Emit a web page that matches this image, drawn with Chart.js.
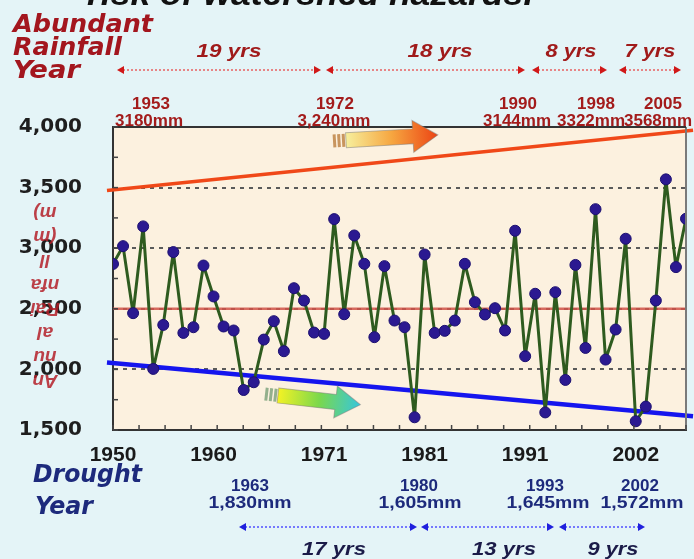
<!DOCTYPE html>
<html>
<head>
<meta charset="utf-8">
<script src="https://cdn.jsdelivr.net/npm/chart.js@4.4.1/dist/chart.umd.min.js"></script>
<style>
  html, body { margin: 0; padding: 0; background: #e4f4f7; }
  #wrap { width: 694px; height: 559px; }
</style>
</head>
<body>
<div id="wrap"><canvas id="chart" width="694" height="559"></canvas></div>
<script>
// annual rainfall, one value per year
const years = [1950, 1951, 1952, 1953, 1954, 1955, 1956, 1957, 1958, 1959,
               1960, 1961, 1962, 1963, 1964, 1965, 1966, 1967, 1968, 1969,
               1970, 1971, 1972, 1973, 1974, 1975, 1976, 1977, 1978, 1979,
               1980, 1981, 1982, 1983, 1984, 1985, 1986, 1987, 1988, 1989,
               1990, 1991, 1992, 1993, 1994, 1995, 1996, 1997, 1998, 1999,
               2000, 2001, 2002, 2003, 2004, 2005, 2006, 2007];
const rainfall = [2870, 3017, 2464, 3180, 2004, 2367, 2968, 2301, 2348, 2857,
                  2602, 2354, 2321, 1830, 1894, 2246, 2398, 2150, 2670, 2568,
                  2304, 2293, 3240, 2455, 3105, 2871, 2266, 2852, 2403, 2348,
                  1605, 2948, 2301, 2318, 2403, 2871, 2555, 2453, 2505, 2321,
                  3144, 2109, 2624, 1645, 2637, 1913, 2862, 2177, 3322, 2081,
                  2329, 3078, 1572, 1693, 2568, 3568, 2844, 3243];

const xTickYears = [1950, 1960, 1971, 1981, 1991, 2002];
const yTicks = [1500, 2000, 2500, 3000, 3500, 4000];

const meanYears = [1950, 2007];
const meanRain = [2500, 2500];
const trendYears = [1949.4, 2007.7];
const wetTrend = [3477, 3973];
const dryTrend = [2057, 1614];

const wetYears = ['1953', '1972', '1990', '1998', '2005'];
const wetAmounts = ['3180mm', '3,240mm', '3144mm', '3322mm', '3568mm'];
const wetGaps = ['19 yrs', '18 yrs', '8 yrs', '7 yrs'];
const dryYears = ['1963', '1980', '1993', '2002'];
const dryAmounts = ['1,830mm', '1,605mm', '1,645mm', '1,572mm'];
const dryGaps = ['17 yrs', '13 yrs', '9 yrs'];

const pts = (xs, ys) => xs.map((x, i) => ({ x: x, y: ys[i] }));

function txt(ctx, s, x, y, o) {
    ctx.save();
    ctx.font = o.font;
    ctx.fillStyle = o.color;
    ctx.textAlign = o.align || 'center';
    ctx.textBaseline = o.base || 'middle';
    ctx.translate(x, y);
    if (o.w) ctx.scale(o.w / ctx.measureText(s).width, 1);
    ctx.fillText(s, 0, 0);
    ctx.restore();
}

function dblArrow(ctx, x1, x2, y, line, head) {
    ctx.save();
    ctx.strokeStyle = line;
    ctx.lineWidth = 1.6;
    ctx.setLineDash([2, 2]);
    ctx.beginPath();
    ctx.moveTo(x1 + 6, y);
    ctx.lineTo(x2 - 6, y);
    ctx.stroke();
    ctx.setLineDash([]);
    ctx.fillStyle = head;
    ctx.beginPath();
    ctx.moveTo(x1, y); ctx.lineTo(x1 + 7, y - 4); ctx.lineTo(x1 + 7, y + 4);
    ctx.fill();
    ctx.beginPath();
    ctx.moveTo(x2, y); ctx.lineTo(x2 - 7, y - 4); ctx.lineTo(x2 - 7, y + 4);
    ctx.fill();
    ctx.restore();
}

// block arrow with a striped tail, drawn along its own axis
function blockArrow(ctx, x, y, ang, len, stops, tail) {
    const tl = 13, hl = 25, hs = 7.5, hh = 16;
    ctx.save();
    ctx.translate(x, y);
    ctx.rotate(ang);
    ctx.fillStyle = tail;
    for (let i = 0; i < 3; i++) ctx.fillRect(i * 4.5, -hs + 1, 3, hs * 2 - 2);
    const g = ctx.createLinearGradient(tl, 0, len, 0);
    stops.forEach((c, i) => g.addColorStop(i / (stops.length - 1), c));
    ctx.fillStyle = g;
    ctx.beginPath();
    ctx.moveTo(tl, -hs);
    ctx.lineTo(len - hl, -hs);
    ctx.lineTo(len - hl, -hh);
    ctx.lineTo(len, 0);
    ctx.lineTo(len - hl, hh);
    ctx.lineTo(len - hl, hs);
    ctx.lineTo(tl, hs);
    ctx.closePath();
    ctx.fill();
    ctx.strokeStyle = 'rgba(120,120,120,0.5)';
    ctx.lineWidth = 1;
    ctx.stroke();
    ctx.restore();
}

const decor = {
    id: 'decor',
    beforeDraw(chart) {
        const { ctx, chartArea: a } = chart;
        ctx.save();
        ctx.fillStyle = '#e4f4f7';
        ctx.fillRect(0, 0, chart.width, chart.height);
        ctx.fillStyle = '#fcf1df';
        ctx.fillRect(a.left, a.top, a.right - a.left, a.bottom - a.top);
        ctx.restore();
    },
    afterDraw(chart) {
        const { ctx, chartArea: a } = chart;
        const ys = chart.scales.y;
        ctx.save();
        // frame
        ctx.lineWidth = 2;
        ctx.strokeStyle = '#7a7a7a';
        ctx.beginPath(); ctx.moveTo(a.right, a.top); ctx.lineTo(a.right, a.bottom); ctx.stroke();
        ctx.strokeStyle = '#333';
        ctx.beginPath(); ctx.moveTo(a.left, a.top); ctx.lineTo(a.right, a.top); ctx.stroke();
        // small tick marks
        ctx.lineWidth = 1.5;
        ctx.strokeStyle = '#444';
        for (let v = 1500; v <= 4000; v += 250) {
            const py = ys.getPixelForValue(v);
            ctx.beginPath(); ctx.moveTo(a.left, py); ctx.lineTo(a.left + 5, py); ctx.stroke();
        }
        for (let i = 0; i <= 22; i++) {
            const px = a.left + (a.right - a.left) * i / 22;
            ctx.beginPath(); ctx.moveTo(px, a.bottom); ctx.lineTo(px, a.bottom - 5); ctx.stroke();
        }
        ctx.restore();

        blockArrow(ctx, 333, 141, -0.058, 105, ['#f7ef9c', '#f6a640', '#ec4414'], '#c8955e');
        blockArrow(ctx, 265, 394, 0.112, 96, ['#f4f224', '#7bd84c', '#36c6dc'], '#93b08c');

        const red = '#a3161e', navy = '#1d2a7c';
        txt(ctx, 'risk of watershed hazards.', 87, 5, { font: 'italic bold 34px "Liberation Sans"', color: '#111', align: 'left', base: 'alphabetic', w: 446 });
        const big = 'italic bold 25px "DejaVu Sans"';
        txt(ctx, 'Abundant', 13, 32, { font: big, color: red, align: 'left', base: 'alphabetic', w: 140 });
        txt(ctx, 'Rainfall', 13, 55, { font: big, color: red, align: 'left', base: 'alphabetic', w: 109 });
        txt(ctx, 'Year', 13, 78, { font: big, color: red, align: 'left', base: 'alphabetic', w: 67 });
        txt(ctx, 'Drought', 33, 482, { font: big, color: navy, align: 'left', base: 'alphabetic', w: 109 });
        txt(ctx, 'Year', 35, 514, { font: big, color: navy, align: 'left', base: 'alphabetic', w: 58 });

        const gapFont = 'italic bold 19px "Liberation Sans"';
        [229, 440, 571, 650].forEach((cx, i) =>
            txt(ctx, wetGaps[i], cx, 52, { font: gapFont, color: '#a01a1a', w: i < 2 ? 65 : 51 }));
        [[117, 321], [326, 525], [532, 607], [619, 681]].forEach(s =>
            dblArrow(ctx, s[0], s[1], 70, '#e86a6a', '#d01818'));
        [334, 504, 613].forEach((cx, i) =>
            txt(ctx, dryGaps[i], cx, 550, { font: gapFont, color: '#1b1b48', w: i < 2 ? 64 : 51 }));
        [[239, 417], [421, 554], [559, 645]].forEach(s =>
            dblArrow(ctx, s[0], s[1], 527, '#5a5aff', '#2020dd'));

        const small = 'bold 17px "Liberation Sans"';
        [151, 335, 518, 596, 663].forEach((cx, i) =>
            txt(ctx, wetYears[i], cx, 104, { font: small, color: '#a31b1b' }));
        [149, 334, 517, 591, 658].forEach((cx, i) =>
            txt(ctx, wetAmounts[i], cx, 121, { font: small, color: '#a31b1b' }));
        [250, 419, 545, 640].forEach((cx, i) =>
            txt(ctx, dryYears[i], cx, 486, { font: small, color: navy }));
        [250, 420, 548, 642].forEach((cx, i) =>
            txt(ctx, dryAmounts[i], cx, 503, { font: small, color: navy, w: 83 }));

        // upside-down axis caption
        const cap = ['m)', '(m', 'll', 'nfa', 'Rai', 'al', 'nu', 'An'];
        cap.forEach((s, i) => {
            ctx.save();
            ctx.translate(45, 212 + i * 24);
            ctx.rotate(Math.PI);
            ctx.font = 'italic bold 19px "Liberation Sans"';
            ctx.fillStyle = 'rgba(180,30,40,0.85)';
            ctx.textAlign = 'center';
            ctx.textBaseline = 'middle';
            ctx.fillText(s, 0, 0);
            ctx.restore();
        });
    }
};

const ctx = document.getElementById('chart').getContext('2d');

new Chart(ctx, {
    type: 'line',
    data: {
        datasets: [{
            label: 'Rainfall',
            data: pts(years, rainfall),
            borderColor: '#2e5b1f',
            borderWidth: 3,
            borderJoinStyle: 'round',
            pointRadius: 5.5,
            pointBackgroundColor: '#2b1991',
            pointBorderColor: '#1c1070',
            pointBorderWidth: 1,
            order: 0
        }, {
            label: 'Mean',
            data: pts(meanYears, meanRain),
            borderColor: 'rgba(208,82,72,0.85)',
            borderWidth: 2.5,
            pointRadius: 0,
            order: 3
        }, {
            label: 'Wet trend',
            data: pts(trendYears, wetTrend),
            borderColor: '#f04818',
            borderWidth: 3.5,
            pointRadius: 0,
            clip: false,
            order: 2
        }, {
            label: 'Dry trend',
            data: pts(trendYears, dryTrend),
            borderColor: '#1515ee',
            borderWidth: 4.5,
            pointRadius: 0,
            clip: false,
            order: 1
        }]
    },
    options: {
        responsive: false,
        animation: false,
        layout: { padding: { top: 127, right: 8, left: 0, bottom: 0 } },
        plugins: {
            legend: { display: false },
            tooltip: { enabled: false }
        },
        scales: {
            x: {
                type: 'linear',
                min: 1950,
                max: 2007,
                afterBuildTicks: s => { s.ticks = xTickYears.map(v => ({ value: v })); },
                afterFit: s => { s.height = 129; },
                ticks: {
                    callback: v => String(v),
                    color: '#1a1a1a',
                    font: { family: 'Liberation Sans', size: 21, weight: 'bold' },
                    padding: 13,
                    maxRotation: 0,
                    autoSkip: false
                },
                grid: { display: false, drawTicks: false },
                border: { color: '#333', width: 2 }
            },
            y: {
                min: 1500,
                max: 4000,
                afterBuildTicks: s => { s.ticks = yTicks.map(v => ({ value: v })); },
                afterFit: s => { s.width = 113; },
                ticks: {
                    color: '#1e1e1e',
                    font: { family: 'DejaVu Sans', size: 20, weight: 'bold' },
                    padding: 31
                },
                grid: {
                    color: c => (c.tick && c.tick.value > 1500 && c.tick.value < 4000) ? '#5a5a5a' : 'rgba(0,0,0,0)',
                    lineWidth: 2,
                    drawTicks: false
                },
                border: { color: '#333', width: 2, dash: [4, 5] }
            }
        }
    },
    plugins: [decor]
});
</script>
</body>
</html>
